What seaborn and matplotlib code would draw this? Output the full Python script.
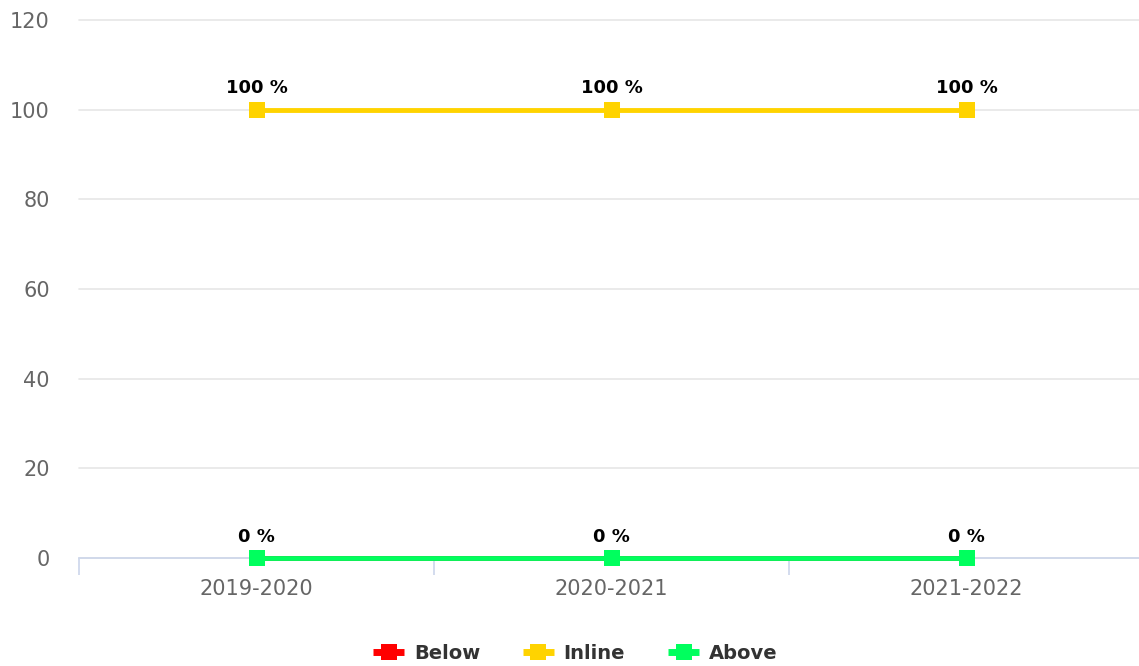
import matplotlib
matplotlib.use("Agg")
import matplotlib.pyplot as plt
import seaborn as sns
import pandas as pd
from matplotlib.ticker import FixedLocator

categories = ["2019-2020", "2020-2021", "2021-2022"]
series_names = ["Below", "Inline", "Above"]
below = [0, 0, 0]
inline = [100, 100, 100]
above = [0, 0, 0]
colors = {"Below": "#ff0000", "Inline": "#ffd300", "Above": "#00ff5e"}
yticks = [0, 20, 40, 60, 80, 100, 120]

series_vals = [below, inline, above]
rows = []
for name, vals in zip(series_names, series_vals):
    for i, (c, v) in enumerate(zip(categories, vals)):
        rows.append({"cat": c, "x": i, "value": v, "series": name})
df = pd.DataFrame(rows)

sns.set_theme(style="white")
plt.rcParams["font.family"] = ["DejaVu Sans"]

fig = plt.figure(figsize=(11.39, 6.66), dpi=100)
ax = fig.add_axes([79 / 1139, 108 / 666, 1065 / 1139, 538 / 666])

ax.yaxis.grid(True, color="#e6e6e6", linewidth=1.2)
ax.set_axisbelow(True)

sns.lineplot(data=df, x="x", y="value", hue="series", hue_order=series_names,
             palette=colors, marker="s", markersize=11, markeredgewidth=0,
             linewidth=3.5, dashes=False, ax=ax, legend=True)
for line in ax.lines:
    line.set_clip_on(False)
    line.set_zorder(5)
for gl in ax.yaxis.get_gridlines():
    gl.set_clip_on(False)

# data labels; overlapping labels are hidden (only the top-most series shows)
for k, vals in enumerate(series_vals):
    for i, v in enumerate(vals):
        if any(later[i] == v for later in series_vals[k + 1:]):
            continue
        ax.annotate(f"{v} %", (i, v), xytext=(0, 9), textcoords="offset points",
                    ha="center", va="bottom", fontsize=13, color="#000000",
                    fontweight="bold", zorder=6)

ax.set_xlim(-0.5, 2.5)
ax.set_ylim(0, 120)
ax.set_yticks(yticks)
ax.set_yticklabels([str(t) for t in yticks], fontsize=15, color="#666666")
ax.set_xticks(range(len(categories)))
ax.set_xticklabels(categories, fontsize=15, color="#666666")
ax.xaxis.set_minor_locator(FixedLocator([-0.5, 0.5, 1.5, 2.5]))
ax.tick_params(axis="x", which="major", length=0, pad=15)
ax.tick_params(axis="x", which="minor", bottom=True, length=12, color="#ccd6eb",
               width=1.2, direction="out")
ax.tick_params(axis="y", length=0, pad=21)

for s in ["top", "right", "left"]:
    ax.spines[s].set_visible(False)
ax.spines["bottom"].set_color("#ccd6eb")
ax.spines["bottom"].set_linewidth(1.2)
ax.spines["bottom"].set_zorder(1)
ax.set_xlabel("")
ax.set_ylabel("")

handles, labels = ax.get_legend_handles_labels()
for h in handles:
    h.set_linewidth(5)
    h.set_markersize(12)
    h.set_solid_capstyle("butt")
ax.legend_.remove()
leg = fig.legend(handles, labels, loc="center", bbox_to_anchor=(0.505, 0.019),
                 ncol=3, frameon=False, fontsize=14, handlelength=1.6,
                 columnspacing=2.2, handletextpad=0.5)
for t in leg.get_texts():
    t.set_color("#333333")
    t.set_fontweight("bold")

fig.savefig("out.png", dpi=100)
